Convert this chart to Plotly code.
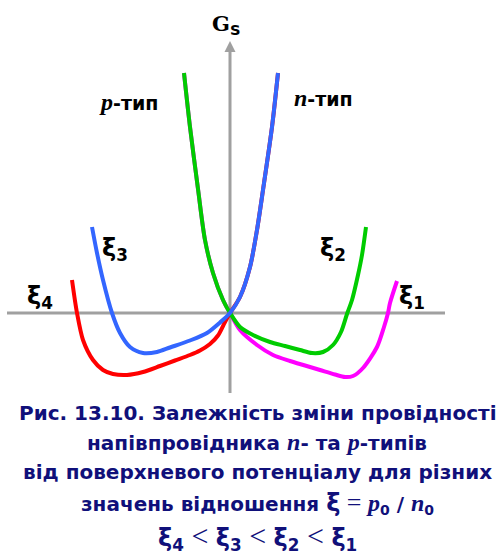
import plotly.graph_objects as go

# Surface conductance G_s versus surface potential (arbitrary units),
# one curve per ratio xi = p0/n0.
xi4_x = [-15.8, -15.3, -14.7, -13.7, -12.7, -11.7, -10.3, -8.7, -7.0, -5.5, -4.0, -3.0, -2.0, -1.2, -0.5, 0.0, 1.0, 2.0, 2.7, 3.3, 4.2, 4.8]
xi4_y = [3.3, 0.0, -2.7, -4.7, -5.7, -6.1, -6.2, -5.9, -5.3, -4.75, -4.2, -3.75, -3.1, -2.25, -0.9, 0.0, 1.6, 4.6, 8.3, 12.3, 18.6, 24.0]

xi3_x = [-13.8, -13.3, -12.7, -11.8, -11.0, -10.0, -8.7, -7.3, -6.0, -4.0, -2.3, -1.0, 0.0, 1.0, 2.0, 2.7, 3.3, 4.2, 4.8]
xi3_y = [8.6, 6.0, 3.3, 0.0, -2.0, -3.4, -4.0, -3.9, -3.45, -2.75, -2.0, -0.95, 0.0, 1.6, 4.6, 8.3, 12.3, 18.6, 24.0]

xi2_x = [-4.6, -4.0, -3.2, -2.5, -1.7, -0.7, 0.0, 1.0, 2.3, 4.0, 5.5, 7.0, 8.2, 9.3, 10.3, 11.1, 11.7, 12.2, 12.8, 13.2, 13.6]
xi2_y = [24.0, 18.6, 12.4, 7.3, 4.0, 1.3, 0.0, -1.4, -2.2, -2.9, -3.3, -3.7, -4.0, -3.9, -3.2, -1.9, -0.1, 1.3, 3.8, 5.8, 8.6]

xi1_x = [-4.6, -4.0, -3.2, -2.5, -1.7, -0.7, 0.0, 1.0, 2.7, 4.3, 6.0, 7.5, 9.0, 10.5, 11.5, 12.3, 13.3, 14.7, 15.4, 15.8, 16.0, 16.7]
xi1_y = [24.0, 18.6, 12.4, 7.3, 4.0, 1.3, 0.0, -1.7, -3.2, -4.2, -4.8, -5.25, -5.7, -6.15, -6.4, -6.3, -5.5, -3.4, -1.4, 0.0, 1.0, 3.2]

series = [
    ("ξ1", xi1_x, xi1_y, "#ff00ff"),
    ("ξ4", xi4_x, xi4_y, "#ff0000"),
    ("ξ2", xi2_x, xi2_y, "#00cc00"),
    ("ξ3", xi3_x, xi3_y, "#3366ff"),
]

AXIS_GREY = "#a0a0a0"
NAVY = "#10107a"
SANS = "DejaVu Sans"
SERIF = "Liberation Serif"
GSERIF = "DejaVu Serif"

fig = go.Figure()
for name, xs, ys, col in series:
    fig.add_trace(go.Scatter(
        x=xs, y=ys, name=name, mode="lines",
        line=dict(color=col, width=4, shape="spline", smoothing=0.8),
        hoverinfo="skip", showlegend=False,
    ))

# coordinate axes drawn as plain grey lines with an arrow on G_s
fig.add_shape(type="line", x0=-22.3, x1=21.5, y0=0, y1=0,
              line=dict(color=AXIS_GREY, width=3), layer="below")
fig.add_shape(type="line", x0=0, x1=0, y0=-8.0, y1=26.3,
              line=dict(color=AXIS_GREY, width=3), layer="below")
fig.add_shape(type="path", path="M 0 27.2 L -0.55 26.1 L 0.55 26.1 Z",
              fillcolor=AXIS_GREY, line=dict(width=0), layer="below")


def it(ch, size=None):
    sz = f";font-size:{size}px" if size else ""
    return f"<span style=\"font-family:'{SERIF}'{sz}\"><i>{ch}</i></span>"


def label(x, y, text, size=20, color="black", family=SANS):
    fig.add_annotation(x=x, y=y, text=text, showarrow=False,
                       xanchor="center", yanchor="middle",
                       font=dict(family=family, size=size, color=color))


label(-0.4, 28.9, f"<b><span style=\"font-family:'{GSERIF}'\">G</span><sub>S</sub></b>", size=21)
label(-10.2, 21.1, f"<b>{it('p', 24)}-тип</b>", size=19)
label(9.3, 21.5, f"<b>{it('n', 24)}-тип</b>", size=19)
label(-11.5, 6.4, "<b>ξ<sub>3</sub></b>", size=24)
label(-19.0, 1.6, "<b>ξ<sub>4</sub></b>", size=24)
label(10.3, 6.4, "<b>ξ<sub>2</sub></b>", size=24)
label(18.2, 1.6, "<b>ξ<sub>1</sub></b>", size=24)

lt = "<span style=\"font-family:'Liberation Serif';font-size:30px;font-weight:normal\"> &lt; </span>"
eq = "<span style=\"font-family:'Liberation Serif';font-size:26px;font-weight:normal\"> = </span>"
caption = [
    (-9.95, 20, "<b>Рис. 13.10. Залежність зміни провідності</b>"),
    (-12.9, 20, f"<b>напівпровідника {it('n', 24)}- та {it('p', 24)}-типів</b>"),
    (-15.9, 20, "<b>від поверхневого потенціалу для різних</b>"),
    (-19.0, 20, f"<b>значень відношення <span style=\"font-size:24px\">ξ</span>{eq}{it('p', 24)}<sub>0</sub> / {it('n', 24)}<sub>0</sub></b>"),
    (-22.4, 24, f"<b>ξ<sub>4</sub>{lt}ξ<sub>3</sub>{lt}ξ<sub>2</sub>{lt}ξ<sub>1</sub></b>"),
]
for yy, sz, txt in caption:
    label(2.7, yy, txt, size=sz, color=NAVY)

fig.update_layout(
    width=500, height=555,
    margin=dict(l=0, r=0, t=0, b=0, pad=0),
    paper_bgcolor="white", plot_bgcolor="white",
    xaxis=dict(range=[-23, 27], visible=False, fixedrange=True),
    yaxis=dict(range=[-24.2, 31.3], visible=False, fixedrange=True),
    showlegend=False,
)

fig.write_html("out.html")
